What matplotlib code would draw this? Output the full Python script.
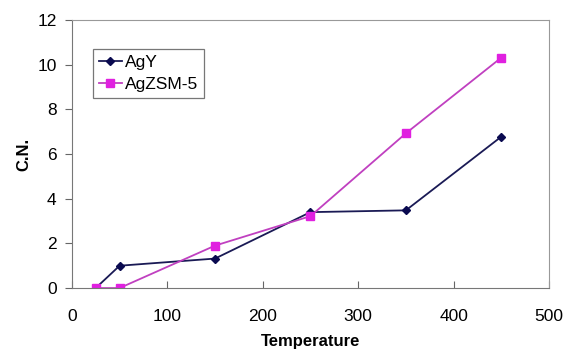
import matplotlib
matplotlib.use("Agg")
import matplotlib.pyplot as plt

temperature = [25, 50, 150, 250, 350, 450]
agy_cn = [0.0, 1.0, 1.32, 3.4, 3.48, 6.78]
agzsm5_cn = [0.0, 0.0, 1.9, 3.22, 6.93, 10.32]

x_ticks = [0, 100, 200, 300, 400, 500]
y_ticks = [0, 2, 4, 6, 8, 10, 12]

plt.rcParams['font.family'] = ['Liberation Sans', 'DejaVu Sans']

fig = plt.figure(figsize=(5.66, 3.53), dpi=100)
ax = fig.add_axes([0.127, 0.184, 0.843, 0.759])

ax.plot(temperature, agy_cn, color='#1a1a55', lw=1.3, marker='D', ms=4,
        mfc='#0a0a50', mec='#0a0a50', label='AgY')
ax.plot(temperature, agzsm5_cn, color='#c040c0', lw=1.3, marker='s', ms=5.5,
        mfc='#e020e0', mec='#e020e0', label='AgZSM-5')

ax.set_xlim(0, 500)
ax.set_ylim(0, 12)
ax.set_xticks(x_ticks)
ax.set_yticks(y_ticks)
ax.tick_params(axis='x', direction='in', length=5, color='#666666',
               labelsize=12.5, pad=15)
ax.tick_params(axis='y', direction='out', length=5, color='#666666',
               labelsize=12.5, pad=6)

for side in ['left', 'bottom']:
    ax.spines[side].set_color('#777777')
for side in ['top', 'right']:
    ax.spines[side].set_color('#999999')

ax.set_xlabel('Temperature', fontsize=12, fontweight='bold', labelpad=7)
ax.set_ylabel('C.N.', fontsize=12, fontweight='bold', labelpad=4)

leg = ax.legend(loc='upper left', bbox_to_anchor=(0.044, 0.892), fontsize=12.5,
                frameon=True, fancybox=False, borderaxespad=0,
                handlelength=1.3, handletextpad=0.2, borderpad=0.35,
                labelspacing=0.4)
leg.get_frame().set_edgecolor('#555555')
leg.get_frame().set_linewidth(0.9)

fig.savefig('out.png', dpi=100)
